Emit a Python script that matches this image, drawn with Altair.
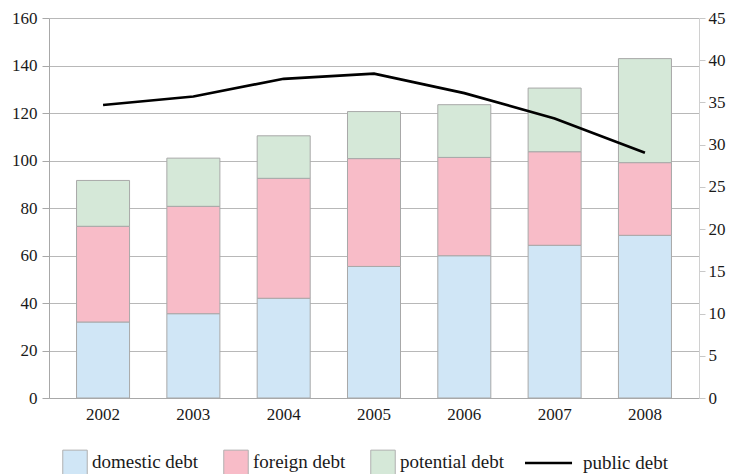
import altair as alt
import pandas as pd

years = ["2002", "2003", "2004", "2005", "2006", "2007", "2008"]
domestic = [32.0, 35.5, 42.0, 55.4, 59.9, 64.3, 68.5]
foreign = [40.3, 45.2, 50.5, 45.4, 41.4, 39.4, 30.6]
potential = [19.3, 20.3, 17.9, 19.8, 22.2, 26.8, 43.8]
public = [34.7, 35.7, 37.8, 38.4, 36.1, 33.1, 29.05]

series_names = ["domestic debt", "foreign debt", "potential debt"]
series_colors = ["#d0e6f6", "#f8bcc8", "#d5e8d8"]
left_ticks = [0, 20, 40, 60, 80, 100, 120, 140, 160]
right_ticks = [0, 5, 10, 15, 20, 25, 30, 35, 40, 45]

rows = []
for i, (name, vals) in enumerate(zip(series_names, [domestic, foreign, potential])):
    for y, v in zip(years, vals):
        rows.append({"year": y, "series": name, "value": v, "order": i})
bars_df = pd.DataFrame(rows)
line_df = pd.DataFrame({"year": years, "public": public, "label": ["public debt"] * len(years)})

FONT = "Liberation Serif"
TXT = "#1a1a1a"

x_enc = alt.X("year:N", title=None, sort=years,
              scale=alt.Scale(paddingInner=0.413, paddingOuter=0.305),
              axis=alt.Axis(labelAngle=0, ticks=False, domain=True, domainColor="#a8a8a8",
                            labelFontSize=17, labelColor=TXT,
                            labelPadding=8, grid=False))

bars = alt.Chart(bars_df).mark_bar(stroke="#a8a8a8", strokeWidth=1).encode(
    x=x_enc,
    y=alt.Y("value:Q", title=None, stack="zero",
            scale=alt.Scale(domain=[0, 160], nice=False),
            axis=alt.Axis(values=left_ticks, grid=True, gridColor="#b8b8b8",
                          domainColor="#a8a8a8", tickColor="#a8a8a8", tickSize=7,
                          labelFontSize=17, labelColor=TXT,
                          labelPadding=5)),
    fill=alt.Fill("series:N", sort=series_names,
                  scale=alt.Scale(domain=series_names, range=series_colors),
                  legend=alt.Legend(title=None, orient="none", legendX=13, legendY=431,
                                    symbolType="square",
                                    symbolSize=600, symbolStrokeColor="#b0b0b0",
                                    symbolStrokeWidth=1, labelFontSize=19,
                                    labelColor=TXT, labelOffset=4, columnPadding=22,
                                    direction="horizontal", padding=0)),
    order=alt.Order("order:Q", sort="ascending"),
)

line = alt.Chart(line_df).mark_line(strokeWidth=2.7, interpolate="linear").encode(
    x=alt.X("year:N", sort=years),
    y=alt.Y("public:Q", title=None,
            scale=alt.Scale(domain=[0, 45], nice=False),
            axis=alt.Axis(orient="right", values=right_ticks, grid=False,
                          domainColor="#d0d0d0", tickColor="#c8c8c8", tickSize=6,
                          labelFontSize=17, labelColor=TXT,
                          labelPadding=3)),
    stroke=alt.Stroke("label:N", scale=alt.Scale(domain=["public debt"], range=["#000000"]),
                      legend=alt.Legend(title=None, orient="none", legendX=462, legendY=431,
                                        symbolType="M0,0H3.84",
                                        symbolSize=600, symbolStrokeWidth=2.7,
                                        labelFontSize=19, padding=0,
                                        labelColor=TXT, labelOffset=44)),
)

chart = alt.layer(bars, line).resolve_scale(y="independent", fill="independent",
                                            stroke="independent").properties(
    width=650, height=380,
    autosize=alt.AutoSizeParams(type="none"),
    padding={"left": 41, "top": 10, "right": 28, "bottom": 80},
    background="white",
).configure(font=FONT).configure_view(stroke=None).configure_axis(
    labelFont=FONT).configure_legend(labelFont=FONT)

chart.save("out.html", embed_options={"renderer": "svg", "actions": False})
